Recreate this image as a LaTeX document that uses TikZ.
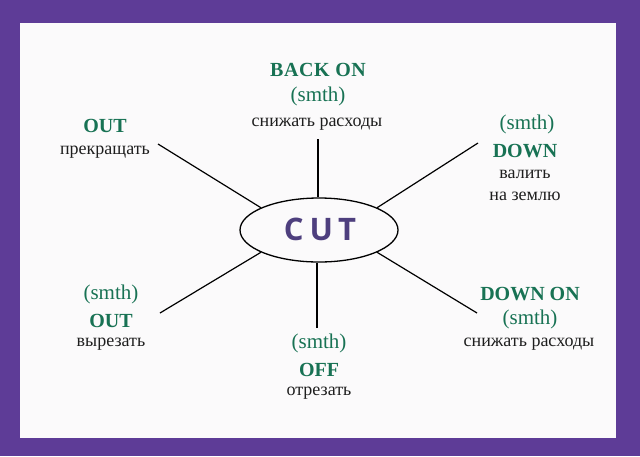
\documentclass[tikz,border=0pt]{standalone}
\usepackage{fontspec}
\setmainfont{Liberation Serif}
\newfontfamily\cutfont{Open Sans}
\usetikzlibrary{shapes.geometric}
\definecolor{frame}{RGB}{94,60,151}
\definecolor{paper}{RGB}{251,250,251}
\definecolor{grn}{RGB}{24,114,84}
\definecolor{txt}{RGB}{30,30,30}
\definecolor{cutc}{RGB}{78,63,126}
\tikzset{
  hd/.style={anchor=base, text=grn, inner sep=0pt, font=\fontsize{20}{24}\selectfont\bfseries},
  sm/.style={anchor=base, text=grn, inner sep=0pt, font=\fontsize{21}{24}\selectfont},
  ru/.style={anchor=base, text=txt, inner sep=0pt, font=\fontsize{18}{22}\selectfont},
  conn/.style={line width=1.2pt, black},
}
\begin{document}
\begin{tikzpicture}[x=1pt,y=-1pt]
\useasboundingbox (0,0) rectangle (640,456);
\fill[frame] (0,0) rectangle (640,456);
\fill[paper] (20,23) rectangle (616,438);
% centre
\node[ellipse, draw, line width=1.3pt, minimum width=158pt, minimum height=64pt, inner sep=0pt] (cut) at (319,230) {};
\node[text=cutc, inner sep=0pt, font=\cutfont\bfseries\fontsize{31}{31}\selectfont] (cutt) at (320,229) {C\kern6pt U\kern5pt T};
% top
\node[hd, font=\fontsize{20}{24}\selectfont\bfseries\addfontfeatures{LetterSpace=3}] (t1) at (318,76) {BACK ON};
\node[sm] (t2) at (318,101) {(smth)};
\node[ru] (t3) at (317,126) {снижать расходы};
% top left
\node[hd] (tl1) at (105,132) {OUT};
\node[ru] (tl2) at (105,154) {прекращать};
% top right
\node[sm] (tr1) at (527,129) {(smth)};
\node[hd] (tr2) at (525,157) {DOWN};
\node[ru] (tr3) at (525,178) {валить};
\node[ru] (tr4) at (525,200) {на землю};
% bottom left
\node[sm] (bl1) at (111,299) {(smth)};
\node[hd] (bl2) at (111,327) {OUT};
\node[ru] (bl3) at (111,346) {вырезать};
% bottom
\node[sm] (b1) at (319,348) {(smth)};
\node[hd] (b2) at (319,376) {OFF};
\node[ru] (b3) at (319,395) {отрезать};
% bottom right
\node[hd] (br1) at (530,300) {DOWN ON};
\node[sm] (br2) at (530,324) {(smth)};
\node[ru] (br3) at (529,346) {снижать расходы};
% connector ends
\coordinate (eT) at (318,139);
\coordinate (eB) at (317,328);
\coordinate (eTL) at (158,144);
\coordinate (eTR) at (478,143);
\coordinate (eBL) at (160,313);
\coordinate (eBR) at (477,313);
\draw[conn] (eT) -- (cut.north -| eT);
\draw[conn] (eB) -- (cut.south -| eB);
\draw[conn] (eTL) -- (cut.159);
\draw[conn] (eTR) -- (cut.21);
\draw[conn] (eBL) -- (cut.201);
\draw[conn] (eBR) -- (cut.-21);
\end{tikzpicture}
\end{document}
